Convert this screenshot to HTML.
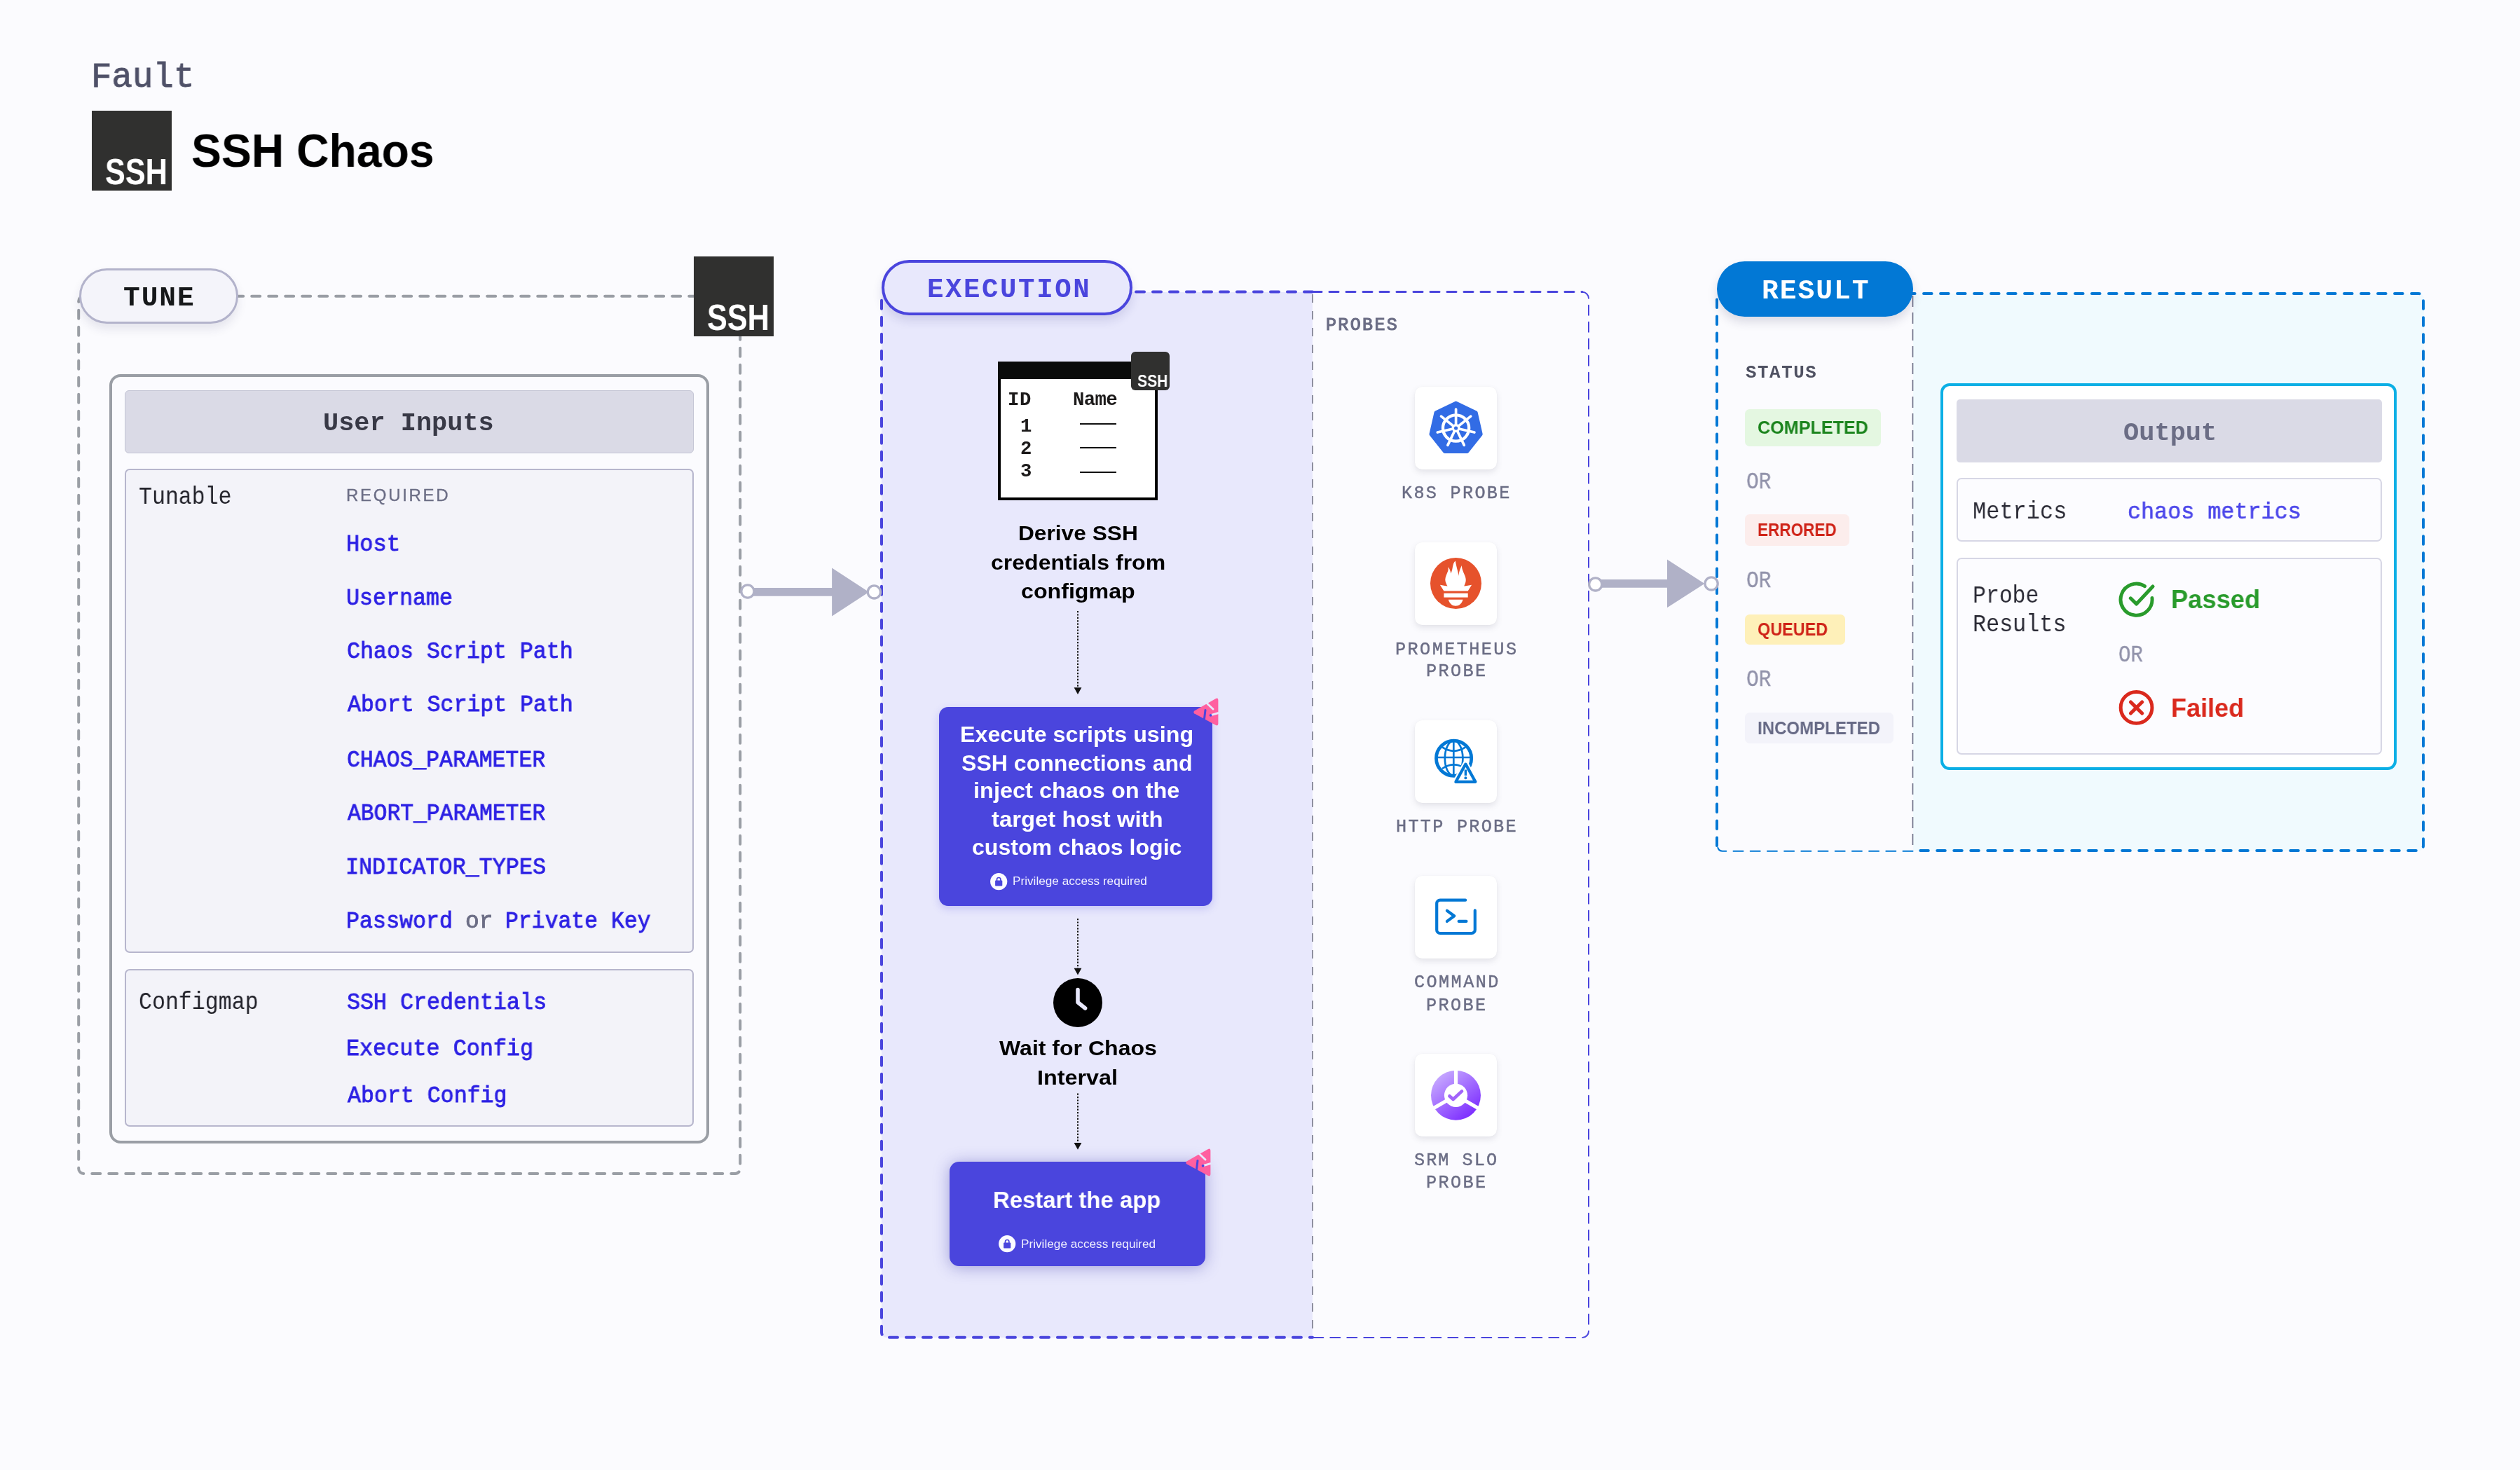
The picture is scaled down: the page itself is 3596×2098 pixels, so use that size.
<!DOCTYPE html>
<html lang="en"><head><meta charset="utf-8"><title>SSH Chaos</title><style>
html,body{margin:0;padding:0}
body{width:3596px;height:2098px;background:#fbfbfe;position:relative;overflow:hidden;font-family:'Liberation Sans', sans-serif}
.a{position:absolute;box-sizing:border-box}
.t{white-space:pre;line-height:1;will-change:transform}
svg{position:absolute;overflow:visible}
</style></head>
<body>
<header><div class="a t" style="left:130.48px;top:86.30px;font:400 50.2px/1 'Liberation Mono', monospace;color:#4f5168;-webkit-text-stroke:0.9px #4f5168;transform:scaleX(0.9790);transform-origin:0 0;">Fault</div><div class="a " style="left:131px;top:158px;width:114px;height:114px;background:#30302f;border-radius:0px;"></div><div class="a t" style="left:150.25px;top:220.30px;font:700 51px/1 'Liberation Sans', sans-serif;color:#fff;transform:scaleX(0.8472);transform-origin:0 0;">SSH</div><div class="a t" style="left:273.05px;top:180.95px;font:700 67.5px/1 'Liberation Sans', sans-serif;color:#000;transform:scaleX(0.9528);transform-origin:0 0;">SSH Chaos</div></header><section class="tune"><svg style="left:0px;top:0px" width="3596" height="2098" viewBox="0 0 3596 2098">
<rect x="112.2" y="422.7" width="944" height="1252.2" rx="7" fill="none" stroke="#9a9ea5" stroke-width="4" stroke-dasharray="12 12" stroke-linecap="round"/>
</svg><div class="a " style="left:113px;top:383px;width:227px;height:78.5px;background:#f4f4fa;border:3.5px solid #b3b3cb;border-radius:40px;box-shadow:0 8px 14px rgba(40,40,90,.10);"></div><div class="a t" style="left:175.70px;top:405.95px;font:700 39.5px/1 'Liberation Mono', monospace;color:#16181a;letter-spacing:1.929px;">TUNE</div><div class="a " style="left:990px;top:366px;width:114px;height:114px;background:#30302f;border-radius:0px;"></div><div class="a t" style="left:1009.25px;top:428.30px;font:700 51px/1 'Liberation Sans', sans-serif;color:#fff;transform:scaleX(0.8472);transform-origin:0 0;">SSH</div><div class="a " style="left:155.6px;top:534.4px;width:856.6px;height:1097.2px;border:4px solid #9a9ea5;border-radius:16px;background:#fbfbfe;"></div><div class="a " style="left:178px;top:557px;width:812px;height:90px;background:#dadae6;border:1px solid #c3c4d4;border-radius:6px;"></div><div class="a t" style="left:461.25px;top:586.80px;font:700 36px/1 'Liberation Mono', monospace;color:#383946;transform:scaleX(1.0255);transform-origin:0 0;">User Inputs</div><div class="a " style="left:177.6px;top:669.4px;width:812px;height:690.6px;background:#f3f3f9;border:2px solid #b7b6cd;border-radius:7px;"></div><div class="a t" style="left:198.39px;top:692.55px;font:400 34.5px/1 'Liberation Mono', monospace;color:#22222a;transform:scaleX(0.9141);transform-origin:0 0;">Tunable</div><div class="a t" style="left:494.00px;top:694.50px;font:400 24px/1 'Liberation Sans', sans-serif;color:#6b6d85;letter-spacing:2.707px;-webkit-text-stroke:0.35px #6b6d85;">REQUIRED</div><div class="a t" style="left:493.73px;top:761.90px;font:400 32.6px/1 'Liberation Mono', monospace;color:#2c20e4;-webkit-text-stroke:0.85px #2c20e4;transform:scaleX(0.9857);transform-origin:0 0;">Host</div><div class="a t" style="left:493.76px;top:838.50px;font:400 32.6px/1 'Liberation Mono', monospace;color:#2c20e4;-webkit-text-stroke:0.85px #2c20e4;transform:scaleX(0.9722);transform-origin:0 0;">Username</div><div class="a t" style="left:494.73px;top:914.80px;font:400 32.6px/1 'Liberation Mono', monospace;color:#2c20e4;-webkit-text-stroke:0.85px #2c20e4;transform:scaleX(0.9711);transform-origin:0 0;">Chaos Script Path</div><div class="a t" style="left:495.70px;top:991.20px;font:400 32.6px/1 'Liberation Mono', monospace;color:#2c20e4;-webkit-text-stroke:0.85px #2c20e4;transform:scaleX(0.9682);transform-origin:0 0;">Abort Script Path</div><div class="a t" style="left:494.73px;top:1069.50px;font:400 32.6px/1 'Liberation Mono', monospace;color:#2c20e4;-webkit-text-stroke:0.85px #2c20e4;transform:scaleX(0.9654);transform-origin:0 0;">CHAOS_PARAMETER</div><div class="a t" style="left:495.70px;top:1146.20px;font:400 32.6px/1 'Liberation Mono', monospace;color:#2c20e4;-webkit-text-stroke:0.85px #2c20e4;transform:scaleX(0.9621);transform-origin:0 0;">ABORT_PARAMETER</div><div class="a t" style="left:492.77px;top:1223.20px;font:400 32.6px/1 'Liberation Mono', monospace;color:#2c20e4;-webkit-text-stroke:0.85px #2c20e4;transform:scaleX(0.9754);transform-origin:0 0;">INDICATOR_TYPES</div><div class="a t" style="left:493.76px;top:1300.20px;font:400 32.6px/1 'Liberation Mono', monospace;color:#2c20e4;-webkit-text-stroke:0.85px #2c20e4;transform:scaleX(0.9720);transform-origin:0 0;">Password</div><div class="a t" style="left:663.97px;top:1300.20px;font:400 32.6px/1 'Liberation Mono', monospace;color:#6b6d85;-webkit-text-stroke:0.85px #6b6d85;transform:scaleX(1.0130);transform-origin:0 0;">or</div><div class="a t" style="left:721.37px;top:1300.20px;font:400 32.6px/1 'Liberation Mono', monospace;color:#2c20e4;-webkit-text-stroke:0.85px #2c20e4;transform:scaleX(0.9647);transform-origin:0 0;">Private Key</div><div class="a " style="left:177.6px;top:1383.3px;width:812px;height:225px;background:#f3f3f9;border:2px solid #b7b6cd;border-radius:7px;"></div><div class="a t" style="left:198.39px;top:1414.25px;font:400 34.5px/1 'Liberation Mono', monospace;color:#22222a;transform:scaleX(0.9149);transform-origin:0 0;">Configmap</div><div class="a t" style="left:494.73px;top:1416.20px;font:400 32.6px/1 'Liberation Mono', monospace;color:#2c20e4;-webkit-text-stroke:0.85px #2c20e4;transform:scaleX(0.9720);transform-origin:0 0;">SSH Credentials</div><div class="a t" style="left:493.75px;top:1482.00px;font:400 32.6px/1 'Liberation Mono', monospace;color:#2c20e4;-webkit-text-stroke:0.85px #2c20e4;transform:scaleX(0.9757);transform-origin:0 0;">Execute Config</div><div class="a t" style="left:495.70px;top:1548.50px;font:400 32.6px/1 'Liberation Mono', monospace;color:#2c20e4;-webkit-text-stroke:0.85px #2c20e4;transform:scaleX(0.9696);transform-origin:0 0;">Abort Config</div></section><section class="execution"><div class="a " style="left:1258px;top:416.6px;width:615px;height:1492.2px;background:#e8e8fc;border-radius:7px 0 0 7px;"></div><svg style="left:0px;top:0px" width="3596" height="2098" viewBox="0 0 3596 2098">
<path d="M1873 416.6 H1265 a7 7 0 0 0 -7 7 V1901.8 a7 7 0 0 0 7 7 H1873" fill="none" stroke="#4a45dd" stroke-width="4" stroke-dasharray="12 12" stroke-linecap="round"/>
<path d="M1873 416.6 H2258" fill="none" stroke="#4a45dd" stroke-width="3" stroke-dasharray="13 11" stroke-linecap="round"/>
<path d="M2258 416.8 a9 9 0 0 1 9 9 V1900 a9 9 0 0 1 -9 9 H1873" fill="none" stroke="#4a45dd" stroke-width="2" stroke-dasharray="14 10" stroke-linecap="round"/>
<line x1="1873" y1="420" x2="1873" y2="1906" stroke="#8f909f" stroke-width="2" stroke-dasharray="12 12"/>
</svg><div class="a " style="left:1258.3px;top:371px;width:357.6px;height:78.8px;background:#e8e8fc;border:4px solid #4a45dd;border-radius:40px;box-shadow:0 8px 14px rgba(40,40,120,.13);"></div><div class="a t" style="left:1322.50px;top:394.70px;font:700 39px/1 'Liberation Mono', monospace;color:#4a45dd;letter-spacing:2.621px;">EXECUTION</div><div class="a " style="left:1424.3px;top:516.2px;width:227.7px;height:198px;background:#fff;border:4px solid #000;"></div><div class="a " style="left:1424.3px;top:516.2px;width:227.7px;height:25px;background:#0a0b0a;"></div><div class="a t" style="left:1437.70px;top:556.85px;font:700 27.3px/1 'Liberation Mono', monospace;color:#1c1a1a;letter-spacing:0.619px;">ID</div><div class="a t" style="left:1531.00px;top:556.85px;font:700 27.3px/1 'Liberation Mono', monospace;color:#1c1a1a;letter-spacing:-0.614px;">Name</div><div class="a t" style="left:1455.80px;top:594.65px;font:700 27.3px/1 'Liberation Mono', monospace;color:#1c1a1a;">1</div><div class="a " style="left:1541.4px;top:603.6px;width:51.3px;height:2.2px;background:#111;"></div><div class="a t" style="left:1456.30px;top:626.85px;font:700 27.3px/1 'Liberation Mono', monospace;color:#1c1a1a;">2</div><div class="a " style="left:1541.4px;top:637.5px;width:51.3px;height:2.2px;background:#111;"></div><div class="a t" style="left:1456.30px;top:659.25px;font:700 27.3px/1 'Liberation Mono', monospace;color:#1c1a1a;">3</div><div class="a " style="left:1541.4px;top:672.5px;width:51.3px;height:2.2px;background:#111;"></div><div class="a " style="left:1614px;top:502px;width:55px;height:55px;background:#30302f;border-radius:6px;"></div><div class="a t" style="left:1623.20px;top:532.65px;font:700 23.5px/1 'Liberation Sans', sans-serif;color:#fff;transform:scaleX(0.8997);transform-origin:0 0;">SSH</div><div class="a t" style="left:1452.78px;top:745.65px;font:700 29.5px/1 'Liberation Sans', sans-serif;color:#000;transform:scaleX(1.0737);transform-origin:0 0;">Derive SSH</div><div class="a t" style="left:1413.56px;top:787.55px;font:700 29.5px/1 'Liberation Sans', sans-serif;color:#000;transform:scaleX(1.0854);transform-origin:0 0;">credentials from</div><div class="a t" style="left:1456.66px;top:829.15px;font:700 29.5px/1 'Liberation Sans', sans-serif;color:#000;transform:scaleX(1.0909);transform-origin:0 0;">configmap</div><svg style="left:0px;top:0px" width="3596" height="2098" viewBox="0 0 3596 2098">
<line x1="1538" y1="872" x2="1538" y2="982" stroke="#111" stroke-width="2" stroke-dasharray="2.2 2.2"/>
<polygon points="1532.6,981.2 1543.4,981.2 1538,991" fill="#111"/>
</svg><div class="a " style="left:1340px;top:1008.9px;width:390.2px;height:284.1px;background:#4a45dd;border-radius:13px;box-shadow:0 4px 12px rgba(74,69,221,.22);"></div><div class="a t" style="left:1369.72px;top:1033.25px;font:700 31.7px/1 'Liberation Sans', sans-serif;color:#fff;transform:scaleX(1.0170);transform-origin:0 0;">Execute scripts using</div><div class="a t" style="left:1372.45px;top:1073.75px;font:700 31.7px/1 'Liberation Sans', sans-serif;color:#fff;transform:scaleX(1.0121);transform-origin:0 0;">SSH connections and</div><div class="a t" style="left:1388.70px;top:1113.45px;font:700 31.7px/1 'Liberation Sans', sans-serif;color:#fff;transform:scaleX(1.0258);transform-origin:0 0;">inject chaos on the</div><div class="a t" style="left:1415.00px;top:1153.65px;font:700 31.7px/1 'Liberation Sans', sans-serif;color:#fff;transform:scaleX(1.0369);transform-origin:0 0;">target host with</div><div class="a t" style="left:1386.69px;top:1193.65px;font:700 31.7px/1 'Liberation Sans', sans-serif;color:#fff;transform:scaleX(1.0123);transform-origin:0 0;">custom chaos logic</div><svg style="left:1412.8px;top:1245.6px" width="24.4" height="24.4" viewBox="0 0 24.4 24.4">
<circle cx="12.2" cy="12.2" r="12.1" fill="#fbfbff"/>
<rect x="7.1" y="10.6" width="10.2" height="7.8" rx="0.9" fill="#4a45dd"/>
<path d="M9.5 11.2 V9.2 a2.7 2.7 0 0 1 5.4 0 V11.2" fill="none" stroke="#4a45dd" stroke-width="1.7"/>
</svg><div class="a t" style="left:1445.28px;top:1249.95px;font:400 16.9px/1 'Liberation Sans', sans-serif;color:#f0f0ff;transform:scaleX(1.0171);transform-origin:0 0;">Privilege access required</div><svg style="left:1703px;top:995.5px" width="36" height="40" viewBox="0 0 36 40">
<path d="M1.2 22.3 Q-0.8 20 1.8 18.2 L32 0.9 Q35.2 -0.4 35.4 3 V37 Q35.2 40.6 32 39 Z" fill="#ff5fa0"/>
<line x1="19.5" y1="8" x2="28" y2="16" stroke="#e8e8fc" stroke-width="3" stroke-linecap="round"/>
<line x1="17" y1="17.5" x2="15.5" y2="30" stroke="#4a45dd" stroke-width="3" stroke-linecap="round"/>
<line x1="25" y1="24.6" x2="35" y2="21.8" stroke="#e8e8fc" stroke-width="3" stroke-linecap="round"/>
<circle cx="24.6" cy="24.8" r="1.9" fill="#4a45dd"/>
</svg><svg style="left:0px;top:0px" width="3596" height="2098" viewBox="0 0 3596 2098">
<line x1="1538" y1="1311" x2="1538" y2="1382.6" stroke="#111" stroke-width="2" stroke-dasharray="2.2 2.2"/>
<polygon points="1532.6,1381.8 1543.4,1381.8 1538,1391.6" fill="#111"/>
</svg><svg style="left:1503px;top:1396.3px" width="70" height="70" viewBox="0 0 70 70">
<circle cx="35" cy="35" r="35" fill="#000"/>
<path d="M35 16.5 V34.5 L45.6 43" fill="none" stroke="#e8e8fc" stroke-width="5.6" stroke-linecap="round" stroke-linejoin="round"/>
</svg><div class="a t" style="left:1425.85px;top:1480.90px;font:700 29.8px/1 'Liberation Sans', sans-serif;color:#000;transform:scaleX(1.0755);transform-origin:0 0;">Wait for Chaos</div><div class="a t" style="left:1480.08px;top:1522.60px;font:700 29.8px/1 'Liberation Sans', sans-serif;color:#000;transform:scaleX(1.0856);transform-origin:0 0;">Interval</div><svg style="left:0px;top:0px" width="3596" height="2098" viewBox="0 0 3596 2098">
<line x1="1538" y1="1560.6" x2="1538" y2="1631.7" stroke="#111" stroke-width="2" stroke-dasharray="2.2 2.2"/>
<polygon points="1532.6,1630.9 1543.4,1630.9 1538,1640.7" fill="#111"/>
</svg><div class="a " style="left:1355px;top:1657.8px;width:365.1px;height:149.6px;background:#4a45dd;border-radius:13.5px;box-shadow:0 2px 22px rgba(56,52,170,.40);"></div><div class="a t" style="left:1417.25px;top:1695.80px;font:700 33.8px/1 'Liberation Sans', sans-serif;color:#fff;transform:scaleX(0.9730);transform-origin:0 0;">Restart the app</div><svg style="left:1424.6px;top:1763.3px" width="24.4" height="24.4" viewBox="0 0 24.4 24.4">
<circle cx="12.2" cy="12.2" r="12.1" fill="#fbfbff"/>
<rect x="7.1" y="10.6" width="10.2" height="7.8" rx="0.9" fill="#4a45dd"/>
<path d="M9.5 11.2 V9.2 a2.7 2.7 0 0 1 5.4 0 V11.2" fill="none" stroke="#4a45dd" stroke-width="1.7"/>
</svg><div class="a t" style="left:1456.88px;top:1767.55px;font:400 16.9px/1 'Liberation Sans', sans-serif;color:#f0f0ff;transform:scaleX(1.0181);transform-origin:0 0;">Privilege access required</div><svg style="left:1692px;top:1638.8px" width="36" height="40" viewBox="0 0 36 40">
<path d="M1.2 22.3 Q-0.8 20 1.8 18.2 L32 0.9 Q35.2 -0.4 35.4 3 V37 Q35.2 40.6 32 39 Z" fill="#ff5fa0"/>
<line x1="19.5" y1="8" x2="28" y2="16" stroke="#e8e8fc" stroke-width="3" stroke-linecap="round"/>
<line x1="17" y1="17.5" x2="15.5" y2="30" stroke="#4a45dd" stroke-width="3" stroke-linecap="round"/>
<line x1="25" y1="24.6" x2="35" y2="21.8" stroke="#e8e8fc" stroke-width="3" stroke-linecap="round"/>
<circle cx="24.6" cy="24.8" r="1.9" fill="#4a45dd"/>
</svg></section><section class="probes"><div class="a t" style="left:1892.30px;top:451.60px;font:400 25px/1 'Liberation Mono', monospace;color:#6b6d85;letter-spacing:2.358px;-webkit-text-stroke:1.1px #6b6d85;">PROBES</div><div class="a " style="left:2018.6px;top:552px;width:117.7px;height:117.8px;background:#fff;border-radius:10.5px;box-shadow:0 4px 9px rgba(96,97,112,.15),0 0 2px rgba(40,41,61,.05);"></div><svg style="left:0px;top:0px" width="3596" height="2098" viewBox="0 0 3596 2098">
<polygon points="2077.60,575.60 2049.45,589.15 2042.50,619.61 2061.98,644.03 2093.22,644.03 2112.70,619.61 2105.75,589.15" fill="#326ce5" stroke="#326ce5" stroke-width="6" stroke-linejoin="round"/>
<circle cx="2077.6" cy="611.0" r="18.6" fill="none" stroke="#fff" stroke-width="4.3"/>
<line x1="2077.6" y1="611.0" x2="2077.60" y2="584.00" stroke="#fff" stroke-width="3.7" stroke-linecap="round"/><line x1="2077.6" y1="611.0" x2="2056.49" y2="594.17" stroke="#fff" stroke-width="3.7" stroke-linecap="round"/><line x1="2077.6" y1="611.0" x2="2051.28" y2="617.01" stroke="#fff" stroke-width="3.7" stroke-linecap="round"/><line x1="2077.6" y1="611.0" x2="2065.89" y2="635.33" stroke="#fff" stroke-width="3.7" stroke-linecap="round"/><line x1="2077.6" y1="611.0" x2="2089.31" y2="635.33" stroke="#fff" stroke-width="3.7" stroke-linecap="round"/><line x1="2077.6" y1="611.0" x2="2103.92" y2="617.01" stroke="#fff" stroke-width="3.7" stroke-linecap="round"/><line x1="2077.6" y1="611.0" x2="2098.71" y2="594.17" stroke="#fff" stroke-width="3.7" stroke-linecap="round"/>
<circle cx="2077.6" cy="611.0" r="6" fill="#fff"/>
<circle cx="2077.6" cy="611.0" r="2.6" fill="#326ce5"/>
</svg><div class="a t" style="left:2000.40px;top:691.90px;font:400 25.2px/1 'Liberation Mono', monospace;color:#6b6d85;letter-spacing:2.285px;-webkit-text-stroke:0.45px #6b6d85;">K8S PROBE</div><div class="a " style="left:2018.6px;top:774px;width:117.7px;height:117.8px;background:#fff;border-radius:10.5px;box-shadow:0 4px 9px rgba(96,97,112,.15),0 0 2px rgba(40,41,61,.05);"></div><svg style="left:2041px;top:796.3px" width="73" height="73" viewBox="0 0 73 73">
<circle cx="36.5" cy="36.5" r="36.5" fill="#e6522c"/>
<path d="M35.9 4.5 C36.3 8 37.5 13 39.1 19.1 C39.8 22 40.2 24 40.4 25.9 C40.8 22 41.5 19 42.5 16.5 C43.3 14.5 44.3 12.5 44.9 11 C45 13.5 45.4 15.5 45.9 17.1 C47 20.5 48.2 22.8 49.1 24.9 C50.2 27.4 50.7 29.5 50.7 31.4 C50.7 33.5 50.4 35 49.8 36.5 C49.4 37.8 48.8 39.2 48.2 40.4 C51.5 40.2 55.5 39.6 59.1 38.8 L53.7 47.5 H19.4 L13.9 38.8 C17.5 39.6 21.5 40.2 24.6 40.4 C23.6 39.2 23 37.8 22.6 36.5 C21.8 34.8 21.3 33.2 21.3 31.4 C21.3 29.4 21.8 27.4 22.6 25.5 C23.4 23.4 24.4 21.3 25.2 19.1 C25.8 17.3 25.8 15.2 25.5 13.3 C26.6 14.4 27.3 15.8 27.8 17.1 C28.6 19 29.1 20.8 29.4 22.6 C30.4 20 31.2 17.5 31.7 14.5 C32.2 12 32.6 10 33.3 8.1 C33.9 6.6 34.8 5.4 35.9 4.5 Z" fill="#fff"/>
<rect x="19.4" y="50.7" width="34.3" height="5.9" fill="#fff"/>
<path d="M25.9 59.8 H46.5 C45.2 65.4 41.2 68.8 36.2 68.8 C31.2 68.8 27.2 65.4 25.9 59.8 Z" fill="#fff"/>
</svg><div class="a t" style="left:1991.05px;top:914.50px;font:400 25.2px/1 'Liberation Mono', monospace;color:#6b6d85;letter-spacing:2.429px;-webkit-text-stroke:0.45px #6b6d85;">PROMETHEUS</div><div class="a t" style="left:2035.05px;top:946.40px;font:400 25.2px/1 'Liberation Mono', monospace;color:#6b6d85;letter-spacing:2.360px;-webkit-text-stroke:0.45px #6b6d85;">PROBE</div><div class="a " style="left:2018.6px;top:1028px;width:117.7px;height:117.8px;background:#fff;border-radius:10.5px;box-shadow:0 4px 9px rgba(96,97,112,.15),0 0 2px rgba(40,41,61,.05);"></div><svg style="left:0px;top:0px" width="3596" height="2098" viewBox="0 0 3596 2098">
<g fill="none" stroke="#0278d5" stroke-width="2.7">
<circle cx="2074.6" cy="1082.2" r="25.1" stroke-width="4.8"/>
<ellipse cx="2074.6" cy="1082.2" rx="12.8" ry="25"/>
<line x1="2074.2999999999997" y1="1057.2" x2="2074.2999999999997" y2="1107.2"/>
<line x1="2049.6" y1="1081.0" x2="2099.6" y2="1081.0"/>
<path d="M2058 1066.4 Q2074.6 1077.2 2091.2 1066.4"/>
<path d="M2058 1097 Q2074.6 1085.6 2091.2 1097"/>
</g>
<polygon points="2091.4,1090.6 2077.4,1115.8 2105.4,1115.8" fill="#fff" stroke="#fff" stroke-width="8.6" stroke-linejoin="round"/>
<polygon points="2091.4,1090.6 2077.4,1115.8 2105.4,1115.8" fill="#fff" stroke="#0278d5" stroke-width="4.2" stroke-linejoin="round"/>
<line x1="2091.4" y1="1098.5" x2="2091.4" y2="1106.9" stroke="#0278d5" stroke-width="3.4"/>
<circle cx="2091.4" cy="1110.2" r="2" fill="#0278d5"/>
</svg><div class="a t" style="left:1991.75px;top:1168.00px;font:400 25.2px/1 'Liberation Mono', monospace;color:#6b6d85;letter-spacing:2.274px;-webkit-text-stroke:0.45px #6b6d85;">HTTP PROBE</div><div class="a " style="left:2018.6px;top:1250px;width:117.7px;height:117.8px;background:#fff;border-radius:10.5px;box-shadow:0 4px 9px rgba(96,97,112,.15),0 0 2px rgba(40,41,61,.05);"></div><svg style="left:0px;top:0px" width="3596" height="2098" viewBox="0 0 3596 2098">
<g fill="none" stroke="#0278d5" stroke-width="4.2" stroke-linecap="round" stroke-linejoin="round">
<path d="M2091.1 1284.7 H2055 a4.8 4.8 0 0 0 -4.8 4.8 V1327.2 a4.8 4.8 0 0 0 4.8 4.8 H2100 a4.8 4.8 0 0 0 4.8 -4.8 V1299.4"/>
<path d="M2064.9 1299.8 L2075.2 1307.2 L2064.9 1314.9"/>
<path d="M2081.7 1314.9 H2092.4"/>
</g>
</svg><div class="a t" style="left:2017.90px;top:1390.30px;font:400 25.2px/1 'Liberation Mono', monospace;color:#6b6d85;letter-spacing:2.418px;-webkit-text-stroke:0.45px #6b6d85;">COMMAND</div><div class="a t" style="left:2035.05px;top:1422.60px;font:400 25.2px/1 'Liberation Mono', monospace;color:#6b6d85;letter-spacing:2.360px;-webkit-text-stroke:0.45px #6b6d85;">PROBE</div><div class="a " style="left:2018.6px;top:1504px;width:117.7px;height:117.8px;background:#fff;border-radius:10.5px;box-shadow:0 4px 9px rgba(96,97,112,.15),0 0 2px rgba(40,41,61,.05);"></div><svg style="left:0px;top:0px" width="3596" height="2098" viewBox="0 0 3596 2098">
<defs><linearGradient id="pg" x1="0.15" y1="0.1" x2="0.8" y2="0.95"><stop offset="0" stop-color="#c6a8ff"/><stop offset="1" stop-color="#7b2bff"/></linearGradient></defs>
<circle cx="2077.5" cy="1563.3" r="35.5" fill="url(#pg)"/>
<g stroke="#fff" stroke-width="5.2">
<line x1="2077.5" y1="1563.3" x2="2077.5" y2="1526.3"/>
<line x1="2077.5" y1="1563.3" x2="2045.46" y2="1581.80"/>
<line x1="2077.5" y1="1563.3" x2="2109.54" y2="1581.80"/>
</g>
<circle cx="2077.5" cy="1563.3" r="16.6" fill="#fff"/>
<path d="M2068.4 1564.2 L2073.6 1569 L2086 1557.4" fill="none" stroke="#a264fa" stroke-width="4.6" stroke-linecap="round" stroke-linejoin="round"/>
</svg><div class="a t" style="left:2018.15px;top:1643.80px;font:400 25.2px/1 'Liberation Mono', monospace;color:#6b6d85;letter-spacing:2.035px;-webkit-text-stroke:0.45px #6b6d85;">SRM SLO</div><div class="a t" style="left:2035.05px;top:1675.60px;font:400 25.2px/1 'Liberation Mono', monospace;color:#6b6d85;letter-spacing:2.360px;-webkit-text-stroke:0.45px #6b6d85;">PROBE</div></section><section class="result"><div class="a " style="left:2729.5px;top:419px;width:729px;height:795px;background:#f0fafe;border-radius:0 7px 7px 0;"></div><svg style="left:0px;top:0px" width="3596" height="2098" viewBox="0 0 3596 2098">
<path d="M2450 1207 V426 a7 7 0 0 1 7 -7 H3451 a7 7 0 0 1 7 7 V1207 a7 7 0 0 1 -7 7 H2729.5" fill="none" stroke="#0278d5" stroke-width="4" stroke-dasharray="11.5 12.5" stroke-linecap="round"/>
<path d="M2729.5 1214.7 H2458 a7 7 0 0 1 -7 -7" fill="none" stroke="#0278d5" stroke-width="2" stroke-dasharray="14 10.2" stroke-linecap="round"/>
<line x1="2729.5" y1="422" x2="2729.5" y2="1212" stroke="#6a6c84" stroke-width="1.6" stroke-dasharray="16 8"/>
</svg><div class="a " style="left:2450.2px;top:373px;width:279.7px;height:79.1px;background:#0278d5;border-radius:40px;box-shadow:0 8px 14px rgba(40,40,90,.15);"></div><div class="a t" style="left:2513.90px;top:395.65px;font:700 39.7px/1 'Liberation Mono', monospace;color:#fff;letter-spacing:1.944px;">RESULT</div><div class="a t" style="left:2490.80px;top:519.70px;font:700 25.8px/1 'Liberation Mono', monospace;color:#4f5162;letter-spacing:1.579px;">STATUS</div><div class="a " style="left:2490.2px;top:583.9px;width:193.9px;height:52.9px;background:#e4f7e1;border-radius:6.5px;"></div><div class="a t" style="left:2507.73px;top:598.05px;font:700 25.9px/1 'Liberation Sans', sans-serif;color:#1b841d;transform:scaleX(0.9718);transform-origin:0 0;">COMPLETED</div><div class="a t" style="left:2492.12px;top:671.70px;font:400 33.4px/1 'Liberation Mono', monospace;color:#9293ab;-webkit-text-stroke:0.3px #9293ab;transform:scaleX(0.8838);transform-origin:0 0;">OR</div><div class="a " style="left:2490.2px;top:734.3px;width:148.6px;height:44.6px;background:#fcedec;border-radius:6.5px;"></div><div class="a t" style="left:2507.83px;top:744.15px;font:700 25.9px/1 'Liberation Sans', sans-serif;color:#cf2318;transform:scaleX(0.8703);transform-origin:0 0;">ERRORED</div><div class="a t" style="left:2492.12px;top:813.00px;font:400 33.4px/1 'Liberation Mono', monospace;color:#9293ab;-webkit-text-stroke:0.3px #9293ab;transform:scaleX(0.8838);transform-origin:0 0;">OR</div><div class="a " style="left:2490.2px;top:876.5px;width:142.5px;height:43.3px;background:#fef0b9;border-radius:6.5px;"></div><div class="a t" style="left:2507.80px;top:885.85px;font:700 25.9px/1 'Liberation Sans', sans-serif;color:#cf2318;transform:scaleX(0.9049);transform-origin:0 0;">QUEUED</div><div class="a t" style="left:2492.12px;top:954.30px;font:400 33.4px/1 'Liberation Mono', monospace;color:#9293ab;-webkit-text-stroke:0.3px #9293ab;transform:scaleX(0.8838);transform-origin:0 0;">OR</div><div class="a " style="left:2490.2px;top:1017.4px;width:212px;height:43.3px;background:#f3f3fa;border-radius:6.5px;"></div><div class="a t" style="left:2507.77px;top:1027.15px;font:700 25.9px/1 'Liberation Sans', sans-serif;color:#666985;transform:scaleX(0.9286);transform-origin:0 0;">INCOMPLETED</div><div class="a " style="left:2768.9px;top:546.7px;width:651.1px;height:551.9px;background:#fff;border:4.5px solid #0bafe5;border-radius:13px;"></div><div class="a " style="left:2791.7px;top:569.7px;width:606.9px;height:90px;background:#dadae6;border-radius:5px;"></div><div class="a t" style="left:3029.55px;top:600.10px;font:700 37px/1 'Liberation Mono', monospace;color:#6b6d85;transform:scaleX(1.0006);transform-origin:0 0;">Output</div><div class="a " style="left:2791.5px;top:682px;width:607px;height:91px;background:#fcfcff;border:2px solid #d7d7e5;border-radius:7px;"></div><div class="a t" style="left:2814.85px;top:713.55px;font:400 34.5px/1 'Liberation Mono', monospace;color:#2a2a35;transform:scaleX(0.9271);transform-origin:0 0;">Metrics</div><div class="a t" style="left:3036.05px;top:715.50px;font:400 32.6px/1 'Liberation Mono', monospace;color:#4c47ea;-webkit-text-stroke:0.6px #4c47ea;transform:scaleX(0.9752);transform-origin:0 0;">chaos metrics</div><div class="a " style="left:2791.5px;top:795.6px;width:607px;height:281.3px;background:#fcfcff;border:2px solid #d7d7e5;border-radius:7px;"></div><div class="a t" style="left:2814.87px;top:833.85px;font:400 34.5px/1 'Liberation Mono', monospace;color:#2a2a35;transform:scaleX(0.9127);transform-origin:0 0;">Probe</div><div class="a t" style="left:2814.86px;top:874.65px;font:400 34.5px/1 'Liberation Mono', monospace;color:#2a2a35;transform:scaleX(0.9207);transform-origin:0 0;">Results</div><svg style="left:0px;top:0px" width="3596" height="2098" viewBox="0 0 3596 2098">
<g fill="none" stroke="#299b2c" stroke-width="5" stroke-linecap="round" stroke-linejoin="round">
<path d="M3071 853.5 A22.5 22.5 0 1 1 3060.5 836.6"/>
<path d="M3040.3 853.8 L3048.6 862 L3072 837"/>
</g>
<g fill="none" stroke="#da291d" stroke-width="5" stroke-linecap="round">
<circle cx="3048.6" cy="1009.9" r="22.4"/>
<path d="M3040.5 1002 L3056.7 1018 M3056.7 1002 L3040.5 1018"/>
</g>
</svg><div class="a t" style="left:3098.05px;top:837.30px;font:700 37.2px/1 'Liberation Sans', sans-serif;color:#299b2c;transform:scaleX(0.9768);transform-origin:0 0;">Passed</div><div class="a t" style="left:3023.33px;top:918.70px;font:400 33.4px/1 'Liberation Mono', monospace;color:#9293ab;-webkit-text-stroke:0.3px #9293ab;transform:scaleX(0.8735);transform-origin:0 0;">OR</div><div class="a t" style="left:3098.06px;top:992.00px;font:700 37.2px/1 'Liberation Sans', sans-serif;color:#da291d;transform:scaleX(0.9697);transform-origin:0 0;">Failed</div></section><div class="connectors"><svg style="left:0px;top:0px" width="3596" height="2098" viewBox="0 0 3596 2098">
<line x1="1074.9" y1="844.9" x2="1189.1" y2="844.9" stroke="#b0b1c7" stroke-width="11.8"/>
<polygon points="1187.1,810.4 1187.1,879.4 1240,844.9" fill="#b0b1c7"/>
<circle cx="1066.9" cy="844" r="9.1" fill="#fff" stroke="#b0b1c7" stroke-width="3.3"/>
<circle cx="1247.4" cy="844.9" r="9.1" fill="#fff" stroke="#b0b1c7" stroke-width="3.3"/>
</svg><svg style="left:0px;top:0px" width="3596" height="2098" viewBox="0 0 3596 2098">
<line x1="2284.7" y1="832.9" x2="2381" y2="832.9" stroke="#b0b1c7" stroke-width="11.8"/>
<polygon points="2379,798.6 2379,867.1999999999999 2432.4,832.9" fill="#b0b1c7"/>
<circle cx="2276.7" cy="833.9" r="9.1" fill="#fff" stroke="#b0b1c7" stroke-width="3.3"/>
<circle cx="2442.1" cy="832.9" r="9.1" fill="#fff" stroke="#b0b1c7" stroke-width="3.3"/>
</svg></div>
</body></html>
